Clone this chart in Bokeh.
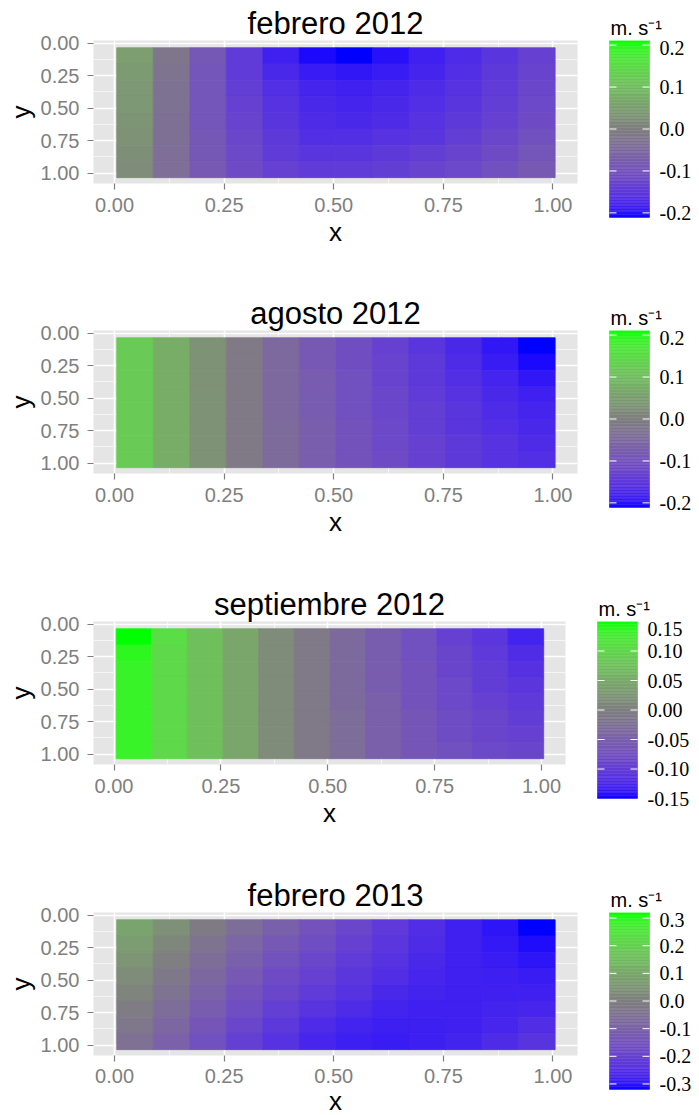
import numpy as np
from bokeh.plotting import figure
from bokeh.models import (Range1d, ColumnDataSource, LinearColorMapper, FixedTicker,
                          PrintfTickFormatter, LabelSet, Title)
from bokeh.layouts import column, row
from bokeh.embed import file_html
from bokeh.resources import INLINE

# ---------------- data ----------------
titles = ["febrero 2012", "agosto 2012", "septiembre 2012", "febrero 2013"]
x_ticks = [0.0, 0.25, 0.5, 0.75, 1.0]
y_ticks = [0.0, 0.25, 0.5, 0.75, 1.0]
x_minor = [0.125, 0.375, 0.625, 0.875]
y_minor = [0.125, 0.375, 0.625, 0.875]

# centres of the grid cells (normalised x / y)
x_cells = [0.0467, 0.1300, 0.2133, 0.2967, 0.3800, 0.4633, 0.5467, 0.6300, 0.7133, 0.7967, 0.8800, 0.9633]
y_cells = [0.0975, 0.2225, 0.3475, 0.4725, 0.5975, 0.7225, 0.8475, 0.9725]

# values (m s-1): one row per y cell (top to bottom), one column per x cell
feb2012 = [
    [0.05, -0.02, -0.09, -0.145, -0.185, -0.205, -0.211, -0.2, -0.185, -0.17, -0.155, -0.135],
    [0.045, -0.025, -0.095, -0.145, -0.175, -0.19, -0.195, -0.19, -0.18, -0.165, -0.15, -0.13],
    [0.04, -0.03, -0.095, -0.14, -0.165, -0.18, -0.185, -0.18, -0.17, -0.16, -0.145, -0.125],
    [0.04, -0.03, -0.095, -0.135, -0.16, -0.175, -0.18, -0.175, -0.165, -0.155, -0.14, -0.12],
    [0.035, -0.035, -0.095, -0.13, -0.155, -0.17, -0.175, -0.17, -0.16, -0.15, -0.135, -0.115],
    [0.03, -0.035, -0.09, -0.125, -0.15, -0.165, -0.165, -0.16, -0.155, -0.14, -0.125, -0.105],
    [0.025, -0.04, -0.09, -0.12, -0.145, -0.155, -0.155, -0.15, -0.14, -0.13, -0.115, -0.095],
    [0.02, -0.04, -0.085, -0.115, -0.135, -0.145, -0.145, -0.14, -0.13, -0.12, -0.105, -0.085],
]
ago2012 = [
    [0.125, 0.075, 0.03, -0.01, -0.05, -0.085, -0.11, -0.135, -0.155, -0.175, -0.195, -0.211],
    [0.125, 0.075, 0.03, -0.01, -0.05, -0.085, -0.11, -0.13, -0.15, -0.17, -0.19, -0.205],
    [0.125, 0.075, 0.03, -0.01, -0.05, -0.08, -0.105, -0.13, -0.15, -0.165, -0.18, -0.195],
    [0.125, 0.075, 0.03, -0.01, -0.05, -0.08, -0.105, -0.125, -0.145, -0.16, -0.175, -0.185],
    [0.125, 0.075, 0.03, -0.01, -0.05, -0.08, -0.105, -0.125, -0.14, -0.155, -0.17, -0.18],
    [0.125, 0.075, 0.03, -0.01, -0.045, -0.075, -0.1, -0.12, -0.14, -0.155, -0.165, -0.175],
    [0.125, 0.075, 0.03, -0.01, -0.045, -0.075, -0.1, -0.12, -0.135, -0.15, -0.16, -0.17],
    [0.125, 0.075, 0.03, -0.01, -0.045, -0.075, -0.1, -0.115, -0.135, -0.15, -0.16, -0.165],
]
sep2012 = [
    [0.15, 0.11, 0.075, 0.045, 0.015, -0.01, -0.035, -0.055, -0.075, -0.095, -0.11, -0.13],
    [0.14, 0.105, 0.075, 0.045, 0.015, -0.01, -0.035, -0.055, -0.075, -0.09, -0.105, -0.12],
    [0.135, 0.105, 0.075, 0.045, 0.015, -0.01, -0.035, -0.055, -0.07, -0.09, -0.1, -0.115],
    [0.135, 0.105, 0.075, 0.045, 0.015, -0.01, -0.035, -0.055, -0.07, -0.085, -0.1, -0.11],
    [0.135, 0.105, 0.075, 0.045, 0.015, -0.01, -0.035, -0.05, -0.07, -0.085, -0.095, -0.105],
    [0.135, 0.105, 0.075, 0.045, 0.015, -0.01, -0.03, -0.05, -0.065, -0.08, -0.09, -0.1],
    [0.135, 0.105, 0.075, 0.045, 0.015, -0.01, -0.03, -0.05, -0.065, -0.08, -0.09, -0.095],
    [0.135, 0.105, 0.075, 0.045, 0.015, -0.01, -0.03, -0.05, -0.065, -0.075, -0.085, -0.09],
]
feb2013 = [
    [0.09, 0.04, -0.015, -0.065, -0.11, -0.15, -0.19, -0.225, -0.255, -0.28, -0.3, -0.32],
    [0.07, 0.015, -0.04, -0.09, -0.135, -0.17, -0.205, -0.235, -0.26, -0.28, -0.295, -0.31],
    [0.05, -0.005, -0.06, -0.11, -0.155, -0.19, -0.22, -0.245, -0.265, -0.28, -0.29, -0.3],
    [0.03, -0.025, -0.08, -0.13, -0.175, -0.205, -0.235, -0.255, -0.27, -0.28, -0.285, -0.29],
    [0.01, -0.045, -0.1, -0.15, -0.19, -0.22, -0.245, -0.265, -0.275, -0.28, -0.28, -0.28],
    [-0.01, -0.065, -0.12, -0.17, -0.21, -0.24, -0.26, -0.275, -0.28, -0.28, -0.275, -0.27],
    [-0.03, -0.085, -0.14, -0.19, -0.23, -0.26, -0.275, -0.285, -0.285, -0.28, -0.27, -0.255],
    [-0.05, -0.105, -0.16, -0.21, -0.245, -0.27, -0.285, -0.29, -0.285, -0.275, -0.26, -0.24],
]
panels = [feb2012, ago2012, sep2012, feb2013]

legend_title = "m. s\u207b\u00b9"
legend_limits = [0.211, 0.211, 0.15, 0.32]
legend_breaks = [
    [0.2, 0.1, 0.0, -0.1, -0.2],
    [0.2, 0.1, 0.0, -0.1, -0.2],
    [0.15, 0.10, 0.05, 0.0, -0.05, -0.10, -0.15],
    [0.3, 0.2, 0.1, 0.0, -0.1, -0.2, -0.3],
]
legend_labels = [
    ["0.2", "0.1", "0.0", "-0.1", "-0.2"],
    ["0.2", "0.1", "0.0", "-0.1", "-0.2"],
    ["0.15", "0.10", "0.05", "0.00", "-0.05", "-0.10", "-0.15"],
    ["0.3", "0.2", "0.1", "0.0", "-0.1", "-0.2", "-0.3"],
]

# ---------------- colour scale (blue - grey50 - green, Lab interpolation) ----------------
M = np.array([[0.4124564, 0.3575761, 0.1804375],
              [0.2126729, 0.7151522, 0.0721750],
              [0.0193339, 0.1191920, 0.9503041]])
WHITE = np.array([0.95047, 1.0, 1.08883])


def to_lab(rgb):
    c = np.array(rgb, float) / 255.0
    lin = np.where(c <= 0.04045, c / 12.92, ((c + 0.055) / 1.055) ** 2.4)
    xyz = (M @ lin) / WHITE
    f = np.where(xyz > 0.008856, np.cbrt(xyz), 7.787 * xyz + 16 / 116)
    return np.array([116 * f[1] - 16, 500 * (f[0] - f[1]), 200 * (f[1] - f[2])])


def to_hex(lab):
    L, a, b = lab
    fy = (L + 16) / 116
    f = np.array([fy + a / 500, fy, fy - b / 200])
    xyz = np.where(f ** 3 > 0.008856, f ** 3, (f - 16 / 116) / 7.787) * WHITE
    lin = np.clip(np.linalg.inv(M) @ xyz, 0, 1)
    c = np.where(lin <= 0.0031308, 12.92 * lin, 1.055 * lin ** (1 / 2.4) - 0.055)
    r, g, bb = np.round(np.clip(c, 0, 1) * 255).astype(int)
    return "#%02x%02x%02x" % (r, g, bb)


lab_low, lab_mid, lab_high = to_lab((0, 0, 255)), to_lab((127, 127, 127)), to_lab((0, 255, 0))
palette = []
for t in np.linspace(-1, 1, 256):
    if t < 0:
        lab = lab_mid + (lab_low - lab_mid) * (-t)
    else:
        lab = lab_mid + (lab_high - lab_mid) * t
    palette.append(to_hex(lab))

FONT = "Liberation Sans"
frame_tops = [40, 40, 41, 42]
frame_bottoms = [107, 107, 106, 60]
frame_widths = [484, 484, 472, 484]
FRAME_H = 143
BAR_H = 177

rows = []
for k in range(4):
    vals = panels[k]
    L = legend_limits[k]
    mapper = LinearColorMapper(palette=palette, low=-L, high=L)

    xs, ys, vs = [], [], []
    for j, yc in enumerate(y_cells):
        for i, xc in enumerate(x_cells):
            xs.append(xc)
            ys.append(yc)
            vs.append(vals[j][i])
    src = ColumnDataSource(dict(x=xs, y=ys, v=vs))

    total_h = frame_tops[k] + FRAME_H + frame_bottoms[k]
    p = figure(frame_width=frame_widths[k], frame_height=FRAME_H,
               min_border_left=93, min_border_right=18,
               min_border_top=frame_tops[k], min_border_bottom=frame_bottoms[k],
               x_range=Range1d(-0.048, 1.056), y_range=Range1d(1.080, -0.021),
               output_backend="svg", toolbar_location=None, title=titles[k])
    p.background_fill_color = "#E5E5E5"
    p.border_fill_color = "white"
    p.outline_line_color = None
    p.title.align = "center"
    p.title.text_font = FONT
    p.title.text_font_size = "31px"
    p.title.text_font_style = "normal"
    p.title.text_color = "black"
    p.title.standoff = 0
    p.title.offset = 0

    p.rect(x="x", y="y", width=1 / len(x_cells), height=1 / len(y_cells), source=src,
           fill_color={"field": "v", "transform": mapper},
           line_color={"field": "v", "transform": mapper}, line_width=0.8)

    p.xaxis.ticker = FixedTicker(ticks=x_ticks, minor_ticks=x_minor)
    p.yaxis.ticker = FixedTicker(ticks=y_ticks, minor_ticks=y_minor)
    p.xaxis.formatter = PrintfTickFormatter(format="%.2f")
    p.yaxis.formatter = PrintfTickFormatter(format="%.2f")
    p.xaxis.axis_label = "x"
    p.yaxis.axis_label = "y"
    for ax in p.axis:
        ax.axis_line_color = None
        ax.major_tick_line_color = "#7f7f7f"
        ax.major_tick_line_width = 1.2
        ax.major_tick_out = 6
        ax.major_tick_in = 0
        ax.minor_tick_line_color = None
        ax.major_label_text_font = FONT
        ax.major_label_text_font_size = "20px"
        ax.major_label_text_color = "#7f7f7f"
        ax.axis_label_text_font = FONT
        ax.axis_label_text_font_size = "26px"
        ax.axis_label_text_font_style = "normal"
        ax.axis_label_text_color = "black"
        ax.axis_label_standoff = 2
    p.xaxis.major_label_standoff = 8
    p.yaxis.major_label_standoff = 8
    p.yaxis.axis_label_standoff = 2
    if k == 3:
        p.xaxis.major_label_standoff = 7
        p.xaxis.axis_label_standoff = 0
    p.grid.grid_line_color = "white"
    p.grid.grid_line_width = 1.6
    p.grid.minor_grid_line_color = "#F5F5F5"
    p.grid.minor_grid_line_width = 1

    # ---------- legend (colour bar) ----------
    main_w = 93 + frame_widths[k] + 18
    lw = 699 - main_w
    kpx = 2 * L / BAR_H  # value per pixel
    lg_frame_h = total_h - frame_tops[k]
    bot_v = -L - (lg_frame_h - BAR_H) * kpx
    lg = figure(frame_width=lw, frame_height=lg_frame_h,
                min_border_left=0, min_border_right=0,
                min_border_top=frame_tops[k], min_border_bottom=0,
                x_range=Range1d(0, lw), y_range=Range1d(bot_v, L),
                x_axis_type=None, y_axis_type=None,
                output_backend="svg", toolbar_location=None)
    lg.title = Title(text=legend_title, align="left", offset=15, standoff=3,
                     text_font=FONT, text_font_size="20px", text_font_style="normal",
                     text_color="black")
    lg.outline_line_color = None
    lg.background_fill_color = "white"
    lg.border_fill_color = "white"
    edges = np.linspace(-L, L, 121)
    bar = ColumnDataSource(dict(b=edges[:-1], t=edges[1:], v=(edges[:-1] + edges[1:]) / 2))
    lg.quad(left=14, right=54, bottom="b", top="t", source=bar,
            fill_color={"field": "v", "transform": mapper},
            line_color={"field": "v", "transform": mapper}, line_width=0.5)
    br = legend_breaks[k]
    inner = [b for b in br if abs(b) < L - 1e-9]
    lg.segment(x0=14, x1=21, y0=inner, y1=inner, line_color="white", line_width=1)
    lg.segment(x0=47, x1=54, y0=inner, y1=inner, line_color="white", line_width=1)

    label_y = [min(b, L - 7.5 * kpx) for b in br]
    lab_src = ColumnDataSource(dict(x=[64] * len(br), y=label_y, t=legend_labels[k]))
    lg.add_layout(LabelSet(x="x", y="y", text="t", source=lab_src,
                           text_font=FONT, text_font_size="20px",
                           text_baseline="middle", text_align="left", text_color="black"))
    rows.append(row(p, lg))

layout = column(*rows)
open("out.html", "w").write(file_html(layout, INLINE))
